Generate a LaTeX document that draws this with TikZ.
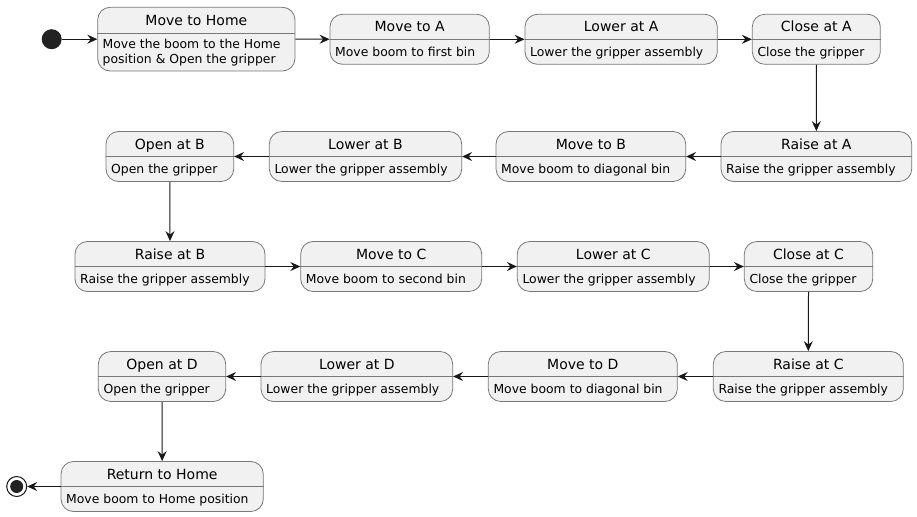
\documentclass[tikz,border=0pt]{standalone}
\usepackage{fontspec}
\setmainfont{DejaVu Sans}
\usetikzlibrary{arrows.meta,positioning,calc}
\definecolor{stateFill}{RGB}{241,241,241}
\definecolor{stateBorder}{RGB}{120,120,120}
\definecolor{stateLine}{RGB}{24,24,24}
\definecolor{dotFill}{RGB}{34,34,34}
\tikzset{
  state/.style={draw=stateBorder, line width=0.8pt, fill=stateFill, rounded corners=12.5pt, minimum height=50pt, inner sep=0pt},
  divider/.style={draw=stateBorder, line width=0.8pt},
  stitle/.style={font=\fontsize{14}{16}\selectfont, inner sep=0pt, text height=10.2pt, text depth=0pt},
  sbody/.style={font=\fontsize{12.4}{15}\selectfont, inner sep=0pt, anchor=west, text height=9pt, text depth=0pt},
  trans/.style={draw=stateLine, line width=1pt, -{Stealth[length=10pt,width=9pt,inset=3.5pt]}},
  initial/.style={circle, fill=dotFill, minimum size=20pt, inner sep=0pt},
  final/.style={circle, draw=stateLine, line width=1pt, fill=white, minimum size=20pt, inner sep=0pt,
    path picture={\fill[dotFill] (path picture bounding box.center) circle (6.5pt);}},
}
\begin{document}
\begin{tikzpicture}[x=1pt,y=1pt,yscale=-1,xscale=1]
\useasboundingbox (0,0) rectangle (917,516);

%Start point
\node[initial] (start) at (51.7,39.2) {};

%State: Move to Home
\node[state, minimum width=197.3pt, minimum height=63.7pt] (movHome) at (196.35,39.15) {};
\draw[divider] (movHome.west |- 0,33.3) -- (movHome.east |- 0,33.3);
\node[stitle] (movHome-t) at (196.35,20.3) {Move to Home};
\node[font=\fontsize{12.4}{15}\selectfont, inner sep=0pt, anchor=west, align=left] (movHome-b) at (102.5,53) {Move the boom to the Home\\position \& Open the gripper};
%State: Move to A
\node[state, minimum width=159.3pt] (movA) at (409.65,39.3) {};
\draw[divider] (movA.west) -- (movA.east);
\node[stitle] (movA-t) at (409.65,26.8) {Move to A};
\node[sbody] (movA-b) at (335,51.8) {Move boom to first bin};
%State: Lower at A
\node[state, minimum width=192.3pt] (lowA) at (621.15,39.3) {};
\draw[divider] (lowA.west) -- (lowA.east);
\node[stitle] (lowA-t) at (621.15,26.8) {Lower at A};
\node[sbody] (lowA-b) at (530,51.8) {Lower the gripper assembly};
%State: Close at A
\node[state, minimum width=128pt] (cloA) at (816.3,39.3) {};
\draw[divider] (cloA.west) -- (cloA.east);
\node[stitle] (cloA-t) at (816.3,26.8) {Close at A};
\node[sbody] (cloA-b) at (757.3,51.8) {Close the gripper};

%State: Raise at A
\node[state, minimum width=190.7pt] (raiA) at (816.35,156.5) {};
\draw[divider] (raiA.west) -- (raiA.east);
\node[stitle] (raiA-t) at (816.35,144) {Raise at A};
\node[sbody] (raiA-b) at (726,169) {Raise the gripper assembly};
%State: Move to B
\node[state, minimum width=189.7pt] (movB) at (590.85,156.5) {};
\draw[divider] (movB.west) -- (movB.east);
\node[stitle] (movB-t) at (590.85,144) {Move to B};
\node[sbody] (movB-b) at (501,169) {Move boom to diagonal bin};
%State: Lower at B
\node[state, minimum width=192.4pt] (lowB) at (365.5,156.5) {};
\draw[divider] (lowB.west) -- (lowB.east);
\node[stitle] (lowB-t) at (365.5,144) {Lower at B};
\node[sbody] (lowB-b) at (274.3,169) {Lower the gripper assembly};
%State: Open at B
\node[state, minimum width=127.7pt] (opnB) at (169.85,156.5) {};
\draw[divider] (opnB.west) -- (opnB.east);
\node[stitle] (opnB-t) at (169.85,144) {Open at B};
\node[sbody] (opnB-b) at (111,169) {Open the gripper};

%State: Raise at B
\node[state, minimum width=190pt] (raiB) at (170,266.5) {};
\draw[divider] (raiB.west) -- (raiB.east);
\node[stitle] (raiB-t) at (170,254) {Raise at B};
\node[sbody] (raiB-b) at (80,279) {Raise the gripper assembly};
%State: Move to C
\node[state, minimum width=181pt] (movC) at (391.2,266.5) {};
\draw[divider] (movC.west) -- (movC.east);
\node[stitle] (movC-t) at (391.2,254) {Move to C};
\node[sbody] (movC-b) at (305.7,279) {Move boom to second bin};
%State: Lower at C
\node[state, minimum width=192pt] (lowC) at (613.3,266.5) {};
\draw[divider] (lowC.west) -- (lowC.east);
\node[stitle] (lowC-t) at (613.3,254) {Lower at C};
\node[sbody] (lowC-b) at (522.3,279) {Lower the gripper assembly};
%State: Close at C
\node[state, minimum width=128.4pt] (cloC) at (808.5,266.5) {};
\draw[divider] (cloC.west) -- (cloC.east);
\node[stitle] (cloC-t) at (808.5,254) {Close at C};
\node[sbody] (cloC-b) at (749.3,279) {Close the gripper};

%State: Raise at C
\node[state, minimum width=190pt] (raiC) at (808.3,376.5) {};
\draw[divider] (raiC.west) -- (raiC.east);
\node[stitle] (raiC-t) at (808.3,364) {Raise at C};
\node[sbody] (raiC-b) at (718.3,389) {Raise the gripper assembly};
%State: Move to D
\node[state, minimum width=189pt] (movD) at (582.8,376.5) {};
\draw[divider] (movD.west) -- (movD.east);
\node[stitle] (movD-t) at (582.8,364) {Move to D};
\node[sbody] (movD-b) at (493.3,389) {Move boom to diagonal bin};
%State: Lower at D
\node[state, minimum width=191.7pt] (lowD) at (356.85,376.5) {};
\draw[divider] (lowD.west) -- (lowD.east);
\node[stitle] (lowD-t) at (356.85,364) {Lower at D};
\node[sbody] (lowD-b) at (266,389) {Lower the gripper assembly};
%State: Open at D
\node[state, minimum width=127.4pt] (opnD) at (162,376.5) {};
\draw[divider] (opnD.west) -- (opnD.east);
\node[stitle] (opnD-t) at (162,364) {Open at D};
\node[sbody] (opnD-b) at (103.3,389) {Open the gripper};

%State: Return to Home
\node[state, minimum width=202.3pt] (retHome) at (162.15,486.5) {};
\draw[divider] (retHome.west) -- (retHome.east);
\node[stitle] (retHome-t) at (162.15,474) {Return to Home};
\node[sbody] (retHome-b) at (66,499) {Move boom to Home position};

%End point
\node[final] (stop) at (16.7,486.5) {};

%Transitions
\draw[trans] (start.east) -- (movHome.west |- start.east);
\draw[trans] (movHome) -- (movA);
\draw[trans] (movA) -- (lowA);
\draw[trans] (lowA) -- (cloA);
\draw[trans] (cloA.south) -- (raiA.north);
\draw[trans] (raiA) -- (movB);
\draw[trans] (movB) -- (lowB);
\draw[trans] (lowB) -- (opnB);
\draw[trans] (opnB.south) -- (raiB.north);
\draw[trans] (raiB) -- (movC);
\draw[trans] (movC) -- (lowC);
\draw[trans] (lowC) -- (cloC);
\draw[trans] (cloC.south) -- (raiC.north);
\draw[trans] (raiC) -- (movD);
\draw[trans] (movD) -- (lowD);
\draw[trans] (lowD) -- (opnD);
\draw[trans] (opnD.south) -- (retHome.north);
\draw[trans] (retHome) -- (stop);

\end{tikzpicture}
\end{document}
